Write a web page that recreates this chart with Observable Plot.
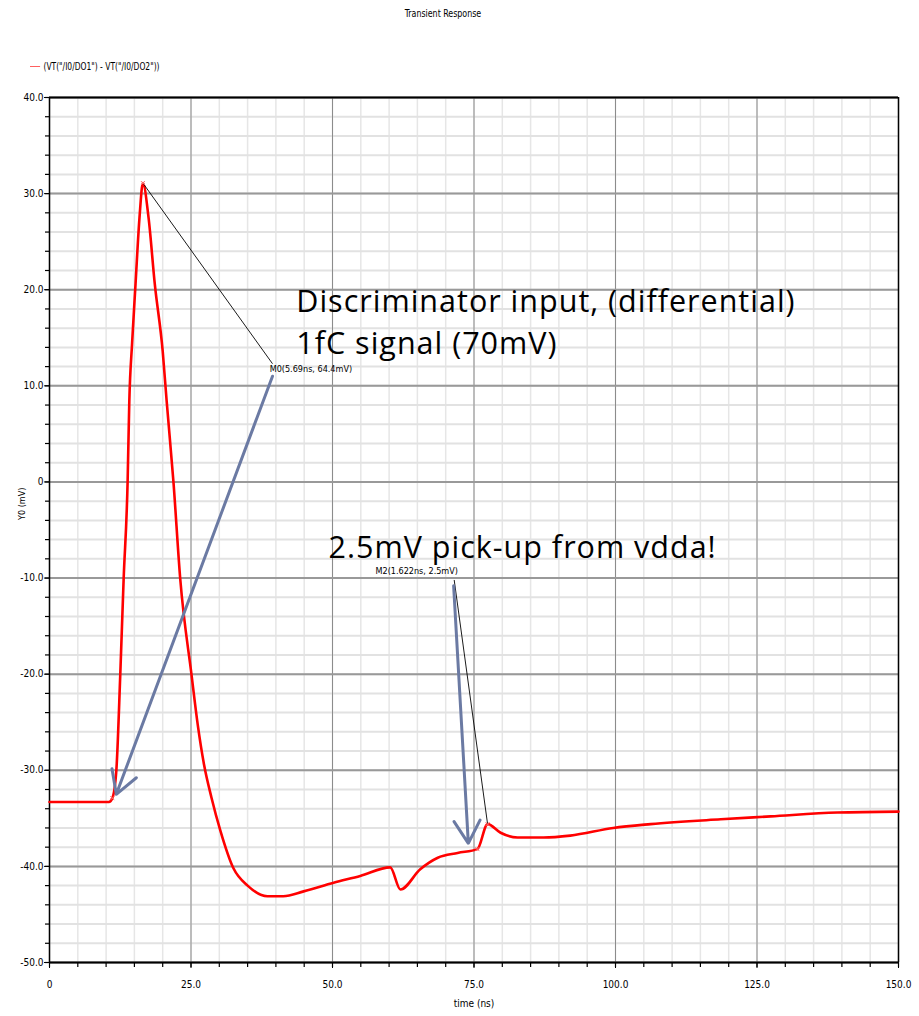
<!DOCTYPE html>
<html>
<head>
<meta charset="utf-8">
<script src="https://cdn.jsdelivr.net/npm/d3@7"></script>
<script src="https://cdn.jsdelivr.net/npm/@observablehq/plot@0.6"></script>
<style>
  html, body { margin: 0; padding: 0; background: #fff; }
  #wrap { position: relative; width: 919px; height: 1016px; overflow: hidden; }
  #head { position: relative; height: 80px; font-family: "Liberation Sans Narrow", "DejaVu Sans Condensed", "DejaVu Sans", sans-serif; font-size: 10px; color: #000; }
  #title { position: absolute; top: 8px; left: 0; width: 886px; text-align: center; transform: scaleX(0.88); transform-origin: 443px 0; }
  #legend { position: absolute; top: 61px; left: 30px; display: flex; align-items: center; transform: scaleX(0.84); transform-origin: 0 0; }
  #legend .sw { width: 12px; height: 1px; background: #ff6060; margin-right: 4px; }
  svg { display: block; }
</style>
</head>
<body>
<div id="wrap">
  <div id="head">
    <div id="title"></div>
    <div id="legend"><span class="sw"></span><span id="legtext"></span></div>
  </div>
  <div id="chart"></div>
</div>
<script>
const titleText = "Transient Response";
const seriesName = "(VT(\"/I0/DO1\") - VT(\"/I0/DO2\"))";
const xLabel = "time (ns)";
const yLabel = "Y0 (mV)";

// waveform: time (ns), voltage (mV)
const timeNs = [0, 5, 10.5, 11.1, 11.8, 12.5, 13.1, 13.8, 14.1, 14.6, 15.2, 15.9, 16.5,
  17.5, 18.6, 20.0, 20.7, 21.9, 23.1, 25.1, 26.2, 27.3, 28.6, 30.2, 32.5, 35.0, 38.5, 41.3,
  44.9, 50.2, 54.9, 60.2, 62.0, 65.5, 68.6, 72.1, 75.6, 77.4, 79.7, 82.7, 87.3, 92.0,
  99.6, 106.2, 118.6, 127.4, 139.2, 150];
const voltMv = [-33.3, -33.3, -33.3, -32.9, -30.1, -20.1, -10.1, 0, 8.4, 14.5, 20.6, 27.5, 31.1,
  27.5, 20.6, 13.6, 8.4, 0, -10.1, -20.1, -25.3, -29.4, -32.8, -36.3, -40.2, -42.0, -43.1, -43.1,
  -42.6, -41.7, -41.0, -40.1, -42.4, -40.3, -39.1, -38.6, -38.2, -35.6, -36.5, -37.0, -37.0, -36.8,
  -36.0, -35.6, -35.1, -34.8, -34.4, -34.3];

// axes
const xMajor = [0, 25, 50, 75, 100, 125, 150];
const xTickLabels = ["0", "25.0", "50.0", "75.0", "100.0", "125.0", "150.0"];
const xMinor = d3.range(0, 151, 5);
const yMajor = [40, 30, 20, 10, 0, -10, -20, -30, -40, -50];
const yTickLabels = ["40.0", "30.0", "20.0", "10.0", "0", "-10.0", "-20.0", "-30.0", "-40.0", "-50.0"];
const yMinor = d3.range(-50, 41, 2);

// markers (data coords)
const markerLabels = ["M0(5.69ns, 64.4mV)", "M2(1.622ns, 2.5mV)"];
const markerLabelT = [38.9, 57.6];
const markerLabelV = [11.7, -9.3];
const markerLinkT1 = [16.5, 71.5];
const markerLinkV1 = [31.1, -10.2];
const markerLinkT2 = [39.4, 77.4];
const markerLinkV2 = [12.3, -35.6];
const markerPtT = [16.5, 77.4, 11.1, 75.6];
const markerPtV = [31.1, -35.6, -32.9, -38.2];

// callouts
const calloutText = ["Discriminator input, (differential)", "1fC signal (70mV)", "2.5mV pick-up from vdda!"];
const calloutT = [43.6, 43.6, 49.3];
const calloutV = [18.7, 14.3, -6.9];
const arrowT1 = [39.4, 71.4];
const arrowV1 = [11.0, -10.8];
const arrowT2 = [11.8, 74.0];
const arrowV2 = [-32.5, -37.6];

document.getElementById("title").textContent = titleText;
document.getElementById("legtext").textContent = seriesName;

const wave = timeNs.map((t, i) => ({t, v: voltMv[i]}));
const mLabels = markerLabels.map((s, i) => ({s, t: markerLabelT[i], v: markerLabelV[i]}));
const mLinks = markerLinkT1.map((t, i) => ({t1: t, v1: markerLinkV1[i], t2: markerLinkT2[i], v2: markerLinkV2[i]}));
const mPts = markerPtT.map((t, i) => ({t, v: markerPtV[i]}));
const callouts = calloutText.map((s, i) => ({s, t: calloutT[i], v: calloutV[i]}));
const arrows = arrowT1.map((t, i) => ({t1: t, v1: arrowV1[i], t2: arrowT2[i], v2: arrowV2[i]}));

const small = "'Liberation Sans Narrow', 'DejaVu Sans Condensed', 'DejaVu Sans', sans-serif";

const chart = Plot.plot({
  width: 919,
  height: 936,
  marginLeft: 49,
  marginRight: 21,
  marginTop: 17,
  marginBottom: 54,
  style: {fontFamily: small, fontSize: "10px", color: "#000", background: "#fff"},
  x: {domain: [0, 150]},
  y: {domain: [-50, 40]},
  marks: [
    Plot.ruleX(xMinor, {stroke: "#e6e6e6", strokeWidth: 1.5}),
    Plot.ruleY(yMinor, {stroke: "#e2e2e2", strokeWidth: 2}),
    Plot.ruleX(xMajor, {stroke: "#8c8c8c", strokeWidth: 1}),
    Plot.ruleY(yMajor, {stroke: "#999", strokeWidth: 2}),
    Plot.ruleY([40, -50], {stroke: "#000", strokeWidth: 2}),
    Plot.ruleX([150], {stroke: "#000", strokeWidth: 1.5}),
    Plot.ruleX([0], {stroke: "#000", strokeWidth: 1.5}),
    Plot.axisY({ticks: yMinor, tickSize: 4, tickFormat: () => "", strokeWidth: 1.2}),
    Plot.axisY({ticks: yMajor, tickSize: 5, tickPadding: 1, tickFormat: (d, i) => yTickLabels[i], label: null}),
    Plot.axisX({ticks: xMinor, tickSize: 5, tickFormat: () => "", strokeWidth: 1.2}),
    Plot.axisX({ticks: xMajor, tickSize: 6, tickPadding: 12, tickFormat: (d, i) => xTickLabels[i],
      label: xLabel, labelAnchor: "center", labelArrow: "none", labelOffset: 44}),
    Plot.text([yLabel], {frameAnchor: "left", rotate: -90, dx: -27, dy: -10, fontSize: 9}),
    Plot.line(wave, {x: "t", y: "v", stroke: "#ff0000", strokeWidth: 2.6, curve: "monotone-x"}),
    Plot.link(mLinks, {x1: "t1", y1: "v1", x2: "t2", y2: "v2", stroke: "#000", strokeWidth: 0.9}),
    Plot.dot(mPts, {x: "t", y: "v", symbol: "times", r: 2, stroke: "#ff7070", strokeWidth: 1}),
    Plot.text(mLabels, {x: "t", y: "v", text: "s", textAnchor: "start", fontSize: 9}),
    Plot.arrow(arrows, {x1: "t1", y1: "v1", x2: "t2", y2: "v2", stroke: "#6b7aa3", strokeWidth: 3, headLength: 13, headAngle: 60}),
    Plot.text(callouts, {x: "t", y: "v", text: "s", textAnchor: "start", fontSize: 30.5, fontFamily: "'Open Sans', sans-serif", fill: "#000"})
  ]
});
d3.select(chart).selectAll("text")
  .filter(function () { return calloutText.includes(this.textContent); })
  .attr("letter-spacing", "1px");
document.getElementById("chart").appendChild(chart);
</script>
</body>
</html>
